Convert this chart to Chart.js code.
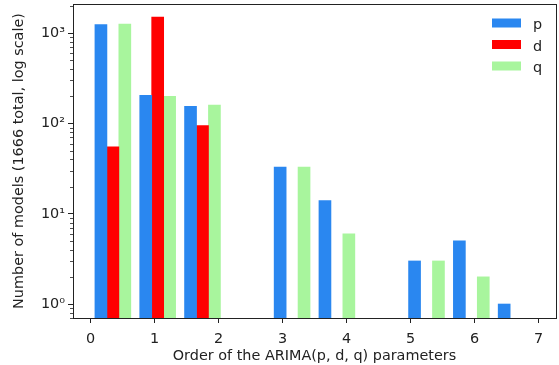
<!DOCTYPE html>
<html>
<head>
<meta charset="utf-8">
<script src="https://cdn.jsdelivr.net/npm/chart.js@4.4.0/dist/chart.umd.min.js"></script>
<style>
    html, body { margin: 0; padding: 0; background: #fff; }
    #cadre { width: 559px; height: 365px; }
</style>
</head>
<body>
<div id="cadre"><canvas id="ordresChart" width="559" height="365"></canvas></div>
<script>
// Ordres possibles des paramètres ARIMA
const ordres = [0, 1, 2, 3, 4, 5, 6, 7];
// Nombre de modèles par ordre (1666 au total pour chaque paramètre)
const modelesP = [1250, 205, 155, 33, 14, 3, 5, 1];
const modelesD = [55, 1516, 95, 0, 0, 0, 0, 0];
const modelesQ = [1262, 200, 160, 33, 6, 3, 2, 0];
const nomsSeries = ['p', 'd', 'q'];
const couleurs = ['#2a87f0', '#ff0000', '#a8f59d'];
const puissancesY = [1, 10, 100, 1000];
const etiquettesY = ['10⁰', '10¹', '10²', '10³'];

const texte = '#222222';
const police = { family: 'DejaVu Sans', size: 14.4, lineHeight: 1.2 };

// histogramme : 10 classes entre 0 et 7, trois barres côte à côte par classe
const nbClasses = 10;
const largeurClasse = 7 / nbClasses;
const largeurBarre = largeurClasse * 0.8 / 3;

function centreBarre(ordre, serie) {
    const classe = Math.min(Math.floor(ordre / largeurClasse), nbClasses - 1);
    return classe * largeurClasse + largeurClasse * 0.1 + (serie + 0.5) * largeurBarre;
}

function points(valeurs, serie) {
    return ordres
        .map((o, i) => ({ x: centreBarre(o, serie), y: valeurs[i] }))
        .filter(pt => pt.y > 0);
}

// marges de 5% autour des barres
const xBas = largeurClasse * 0.1;
const xHaut = 7 - largeurClasse * 0.1;
const marge = (xHaut - xBas) * 0.05;

// cadre complet autour de la zone de tracé
const pluginCadre = {
    id: 'cadre',
    afterDraw(chart) {
        const { ctx, chartArea: a } = chart;
        ctx.save();
        ctx.strokeStyle = texte;
        ctx.lineWidth = 1;
        ctx.strokeRect(Math.round(a.left) + 0.5, Math.round(a.top) + 0.5,
            Math.round(a.right - a.left), Math.round(a.bottom - a.top));
        ctx.restore();
    }
};

// petites graduations de l'axe log
const pluginMineures = {
    id: 'mineures',
    afterDraw(chart) {
        const y = chart.scales.y;
        const ctx = chart.ctx;
        ctx.save();
        ctx.strokeStyle = texte;
        ctx.lineWidth = 0.8;
        for (let d = -1; d <= 3; d++) {
            for (let m = 2; m <= 9; m++) {
                const v = m * Math.pow(10, d);
                if (v < y.min || v > y.max) continue;
                const py = Math.round(y.getPixelForValue(v)) + 0.5;
                ctx.beginPath();
                ctx.moveTo(y.right - 3, py);
                ctx.lineTo(y.right, py);
                ctx.stroke();
            }
        }
        ctx.restore();
    }
};

// légende en haut à droite, dans la zone de tracé
const pluginLegende = {
    id: 'legende',
    afterDraw(chart) {
        const { ctx, chartArea: a } = chart;
        ctx.save();
        ctx.font = `${police.size}px ${police.family}`;
        ctx.textBaseline = 'alphabetic';
        chart.data.datasets.forEach((ds, i) => {
            const cy = a.top + 19 + i * 21.5;
            ctx.fillStyle = ds.backgroundColor;
            ctx.fillRect(a.right - 64, cy - 4.5, 29, 9);
            ctx.fillStyle = texte;
            ctx.fillText(ds.label, a.right - 23, cy + 6);
        });
        ctx.restore();
    }
};

new Chart(document.getElementById('ordresChart'), {
    type: 'bar',
    data: {
        datasets: [modelesP, modelesD, modelesQ].map((valeurs, s) => ({
            label: nomsSeries[s],
            data: points(valeurs, s),
            backgroundColor: couleurs[s],
            borderWidth: 0,
            barThickness: 12,
            grouped: false
        }))
    },
    options: {
        responsive: false,
        animation: false,
        layout: { padding: { top: 4, right: 3, left: 0, bottom: 0 } },
        plugins: {
            legend: { display: false },
            tooltip: { enabled: false }
        },
        scales: {
            x: {
                type: 'linear',
                min: xBas - marge,
                max: xHaut + marge,
                offset: false,
                afterBuildTicks: s => { s.ticks = ordres.map(v => ({ value: v })); },
                afterFit: s => { s.height = 47; },
                grid: { display: true, offset: false, drawOnChartArea: false, drawTicks: true, tickLength: 5, tickColor: texte },
                border: { display: true, color: texte },
                ticks: { font: police, color: texte, padding: 8, maxRotation: 0, autoSkip: false },
                title: {
                    display: true,
                    text: 'Order of the ARIMA(p, d, q) parameters',
                    font: police,
                    color: texte,
                    padding: { top: 0, bottom: 0 }
                }
            },
            y: {
                type: 'logarithmic',
                min: 0.7,
                max: 2110,
                afterBuildTicks: s => { s.ticks = puissancesY.map(v => ({ value: v })); },
                afterFit: s => {
                    s.width = 73;
                    s.paddingTop = 0;
                    s.paddingBottom = 0;
                },
                grid: { display: true, drawOnChartArea: false, drawTicks: true, tickLength: 5, tickColor: texte },
                border: { display: true, color: texte },
                ticks: {
                    font: police,
                    color: texte,
                    padding: 3,
                    autoSkip: false,
                    callback: v => etiquettesY[puissancesY.indexOf(v)] || ''
                },
                title: {
                    display: true,
                    text: 'Number of models (1666 total, log scale)',
                    font: police,
                    color: texte,
                    padding: { top: 11, bottom: 0 }
                }
            }
        }
    },
    plugins: [pluginCadre, pluginMineures, pluginLegende]
});
</script>
</body>
</html>
